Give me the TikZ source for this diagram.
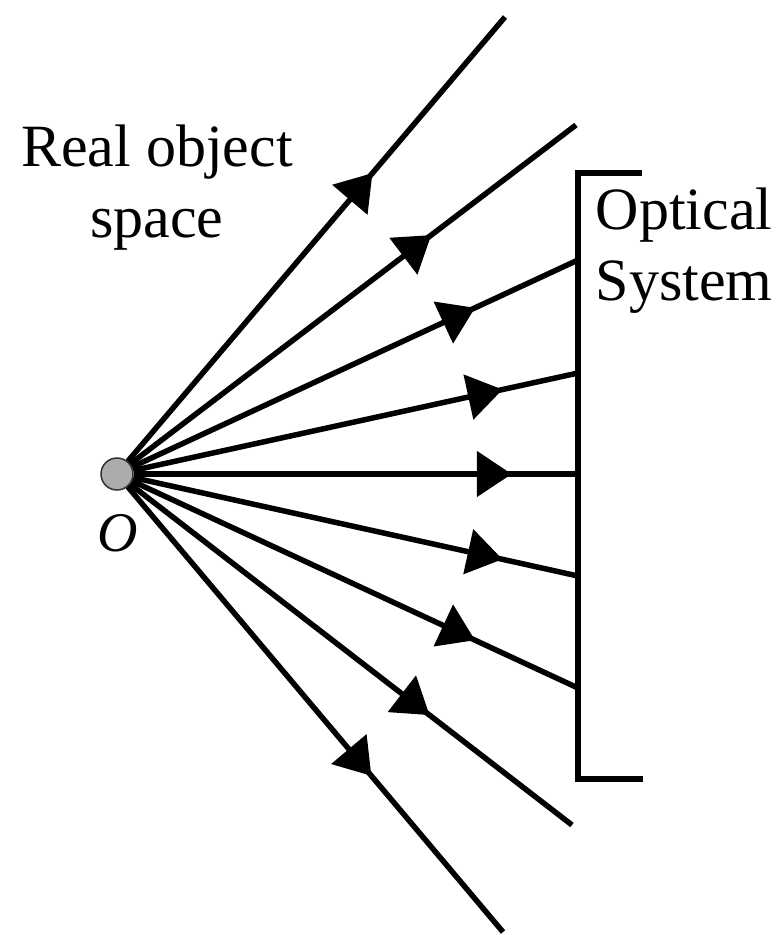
\documentclass[tikz,border=0pt]{standalone}
\usepackage{fontspec}
\setmainfont{Liberation Serif}
\usetikzlibrary{arrows.meta, decorations.markings}
\tikzset{
    ray/.style={line width=5.5pt, postaction={decorate},
        decoration={markings, mark=at position 378pt with {\arrow{Triangle[length=35pt, width=45pt]}}}},
    bracketline/.style={line width=5.5pt, line join=miter},
    lbl/.style={align=center, inner sep=0pt, font=\fontsize{60}{71}\selectfont}
}

\begin{document}
\begin{tikzpicture}[x=1pt, y=-1pt]
\useasboundingbox (0,0) rectangle (783,935);

% --- Object point ---
\node[circle, draw=black!80, fill=gray!65, line width=1.5pt, minimum size=32pt, inner sep=0pt] (O) at (117,474) {};
\node[lbl, font=\fontsize{56}{60}\selectfont\itshape] (Olbl) at (118,533) {O};

% --- Ray end points ---
\coordinate (e1) at (505,17);
\coordinate (e2) at (576,125);
\coordinate (e3) at (578,260);
\coordinate (e4) at (578,373);
\coordinate (e5) at (578,474);
\coordinate (e6) at (578,576);
\coordinate (e7) at (578,688);
\coordinate (e8) at (572,825);
\coordinate (e9) at (503,932);

% --- Rays from O ---
\foreach \i in {1,...,9}
    \draw[ray] (O) -- (e\i);

% --- Optical system bracket ---
\coordinate (bt) at (578,173);
\coordinate (btr) at (642,173);
\coordinate (bb) at (578,779);
\coordinate (bbr) at (643,779);
\draw[bracketline] (btr) -- (bt) -- (bb) -- (bbr);

% --- Labels ---
\node[lbl] (real) at (157,188) {Real object\\space};
\node[lbl] (optical) at (684,251) {Optical\\System};

\end{tikzpicture}
\end{document}
